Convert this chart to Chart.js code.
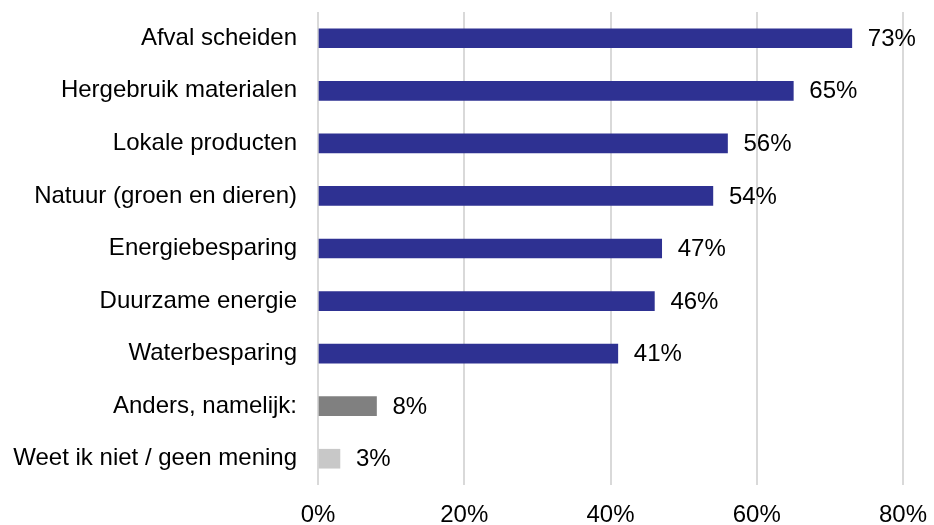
<!DOCTYPE html>
<html>
<head>
<meta charset="utf-8">
<script src="https://cdn.jsdelivr.net/npm/chart.js@4"></script>
<style>
  html, body { margin: 0; padding: 0; background: #fff; }
  #wrap { width: 934px; height: 525px; position: relative; }
</style>
</head>
<body>
<div id="wrap"><canvas id="chart" width="934" height="525"></canvas></div>
<script>
var categories = [
  "Afval scheiden",
  "Hergebruik materialen",
  "Lokale producten",
  "Natuur (groen en dieren)",
  "Energiebesparing",
  "Duurzame energie",
  "Waterbesparing",
  "Anders, namelijk:",
  "Weet ik niet / geen mening"
];
var values = [73, 65, 56, 54, 47, 46, 41, 8, 3];
var barColors = ["#2e3192", "#2e3192", "#2e3192", "#2e3192", "#2e3192", "#2e3192", "#2e3192", "#808080", "#c8c8c8"];
var xTicks = [0, 20, 40, 60, 80];

var fontFamily = "'Liberation Sans', Arial, sans-serif";
var fontSize = 24;

// draws the "73%" labels next to the bars
var valueLabels = {
  id: "valueLabels",
  afterDatasetsDraw: function (chart) {
    var ctx = chart.ctx;
    var meta = chart.getDatasetMeta(0);
    ctx.save();
    ctx.font = fontSize + "px " + fontFamily;
    ctx.fillStyle = "#000";
    ctx.textAlign = "left";
    ctx.textBaseline = "middle";
    meta.data.forEach(function (bar, i) {
      ctx.fillText(values[i] + "%", bar.x + 16, bar.y + 1);
    });
    ctx.restore();
  }
};

var ctx = document.getElementById("chart").getContext("2d");
var chart = new Chart(ctx, {
  type: "bar",
  data: {
    labels: categories,
    datasets: [{
      data: values,
      backgroundColor: barColors,
      barThickness: 19
    }]
  },
  options: {
    indexAxis: "y",
    responsive: false,
    animation: false,
    layout: { padding: { left: 0, right: 31, top: 12, bottom: 0 } },
    plugins: {
      legend: { display: false },
      tooltip: { enabled: false }
    },
    scales: {
      x: {
        min: 0,
        max: 80,
        afterBuildTicks: function (scale) {
          scale.ticks = xTicks.map(function (v) { return { value: v }; });
        },
        afterFit: function (scale) {
          scale.height = 40;
          scale.paddingLeft = 0;
          scale.paddingRight = 0;
        },
        grid: { color: "#d9d9d9", lineWidth: 2, drawTicks: false },
        border: { display: false },
        ticks: {
          padding: 16,
          color: "#000",
          font: { size: fontSize, family: fontFamily },
          callback: function (v) { return v + "%"; }
        }
      },
      y: {
        afterFit: function (scale) {
          scale.width = 318;
          scale.paddingTop = 0;
          scale.paddingBottom = 0;
        },
        grid: { display: false, drawTicks: false },
        border: { display: false },
        ticks: {
          padding: 21,
          color: "#000",
          font: { size: fontSize, family: fontFamily }
        }
      }
    }
  },
  plugins: [valueLabels]
});
</script>
</body>
</html>
